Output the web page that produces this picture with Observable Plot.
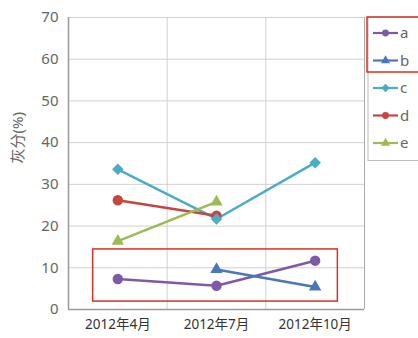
<!DOCTYPE html>
<html><head><meta charset="utf-8">
<script src="https://cdn.jsdelivr.net/npm/d3@7"></script>
<script src="https://cdn.jsdelivr.net/npm/@observablehq/plot@0.6"></script>
<style>
body{margin:0;background:#fff;font-family:"Noto Sans","Noto Sans CJK SC",sans-serif;}
#wrap{position:relative;width:418px;height:338px;}
#legend{position:absolute;left:0;top:0;}
</style></head>
<body><div id="wrap"></div>
<script>
const months = ["2012年4月", "2012年7月", "2012年10月"];
const seriesNames = ["a", "b", "c", "d", "e"];
const seriesColors = ["#7d5aa8", "#4a77b5", "#4badc5", "#c4463f", "#9dbb53"];
const seriesSymbols = ["circle", "triangle", "diamond", "circle", "triangle"];
const valuesA = [7.3, 5.7, 11.7];
const valuesB = [null, 9.6, 5.4];
const valuesC = [33.6, 21.7, 35.2];
const valuesD = [26.2, 22.5, null];
const valuesE = [16.4, 25.8, null];
const yTicks = [0, 10, 20, 30, 40, 50, 60, 70];
const yLabel = "灰分(%)";
const highlighted = ["a", "b"];

const allValues = [valuesA, valuesB, valuesC, valuesD, valuesE];
const rows = [];
seriesNames.forEach((s, si) => allValues[si].forEach((v, i) => {
  if (v != null) rows.push({series: s, xi: i, value: v});
}));
const hl = rows.filter(d => highlighted.includes(d.series));
const box = [{
  x1: d3.min(hl, d => d.xi) - 0.25, x2: d3.max(hl, d => d.xi) + 0.23,
  y1: d3.min(hl, d => d.value) - 3.5, y2: d3.max(hl, d => d.value) + 2.7
}];
const bounds = months.map((m, i) => i + 0.5).slice(0, -1);

const squareDiamond = {
  draw(ctx, size) {
    const h = Math.sqrt(size / 2);
    ctx.moveTo(0, -h); ctx.lineTo(h, 0); ctx.lineTo(0, h); ctx.lineTo(-h, 0); ctx.closePath();
  }
};
const symbolMap = {circle: d3.symbolCircle, triangle: d3.symbolTriangle, diamond: squareDiamond};
const colorOf = s => seriesColors[seriesNames.indexOf(s)];
const symOf = s => symbolMap[seriesSymbols[seriesNames.indexOf(s)]];
const rOf = s => ({circle: 5.2, triangle: 4.6, diamond: 4.6})[seriesSymbols[seriesNames.indexOf(s)]];

const chart = Plot.plot({
  width: 418, height: 338,
  marginLeft: 68, marginRight: 54, marginTop: 17, marginBottom: 29,
  style: {fontFamily: "Noto Sans, Noto Sans CJK SC, sans-serif", color: "#555"},
  x: {type: "linear", domain: [-0.5, months.length - 0.5], ticks: months.map((m, i) => i),
      tickFormat: i => months[i], label: null},
  y: {domain: [0, 70], ticks: yTicks, label: null},
  r: {type: "identity"},
  symbol: {type: "identity"},
  marks: [
    Plot.ruleY(yTicks, {stroke: "#d0d0d0", strokeWidth: 1}),
    Plot.ruleX(bounds, {stroke: "#d0d0d0", strokeWidth: 1}),
    Plot.ruleX([months.length - 0.5], {stroke: "#aaa", strokeWidth: 1}),
    Plot.ruleX([-0.5], {stroke: "#999", strokeWidth: 1.5}),
    Plot.ruleY([0], {stroke: "#999", strokeWidth: 1.5}),
    Plot.axisY({ticks: yTicks, tickSize: 0, tickPadding: 10, fontSize: 15, fill: "#666", label: null}),
    Plot.axisX({ticks: months.map((m, i) => i), tickFormat: i => months[i], tickSize: 0, tickPadding: 10, fontSize: 13.5, fill: "#333", label: null}),
    Plot.text([yLabel], {frameAnchor: "left", dx: -50, dy: 0, rotate: -90, fontSize: 15, fill: "#666"}),
    Plot.line(rows, {x: "xi", y: "value", z: "series", stroke: d => colorOf(d.series), strokeWidth: 2.5}),
    Plot.dot(rows, {x: "xi", y: "value", symbol: d => symOf(d.series), fill: d => colorOf(d.series), r: d => rOf(d.series)}),
    Plot.rect(box, {x1: "x1", x2: "x2", y1: "y1", y2: "y2", fill: "none", stroke: "#d9302a", strokeWidth: 1.5})
  ]
});
document.getElementById("wrap").appendChild(chart);

// legend
const lg = d3.select("#wrap").append("svg").attr("id", "legend").attr("width", 418).attr("height", 338);
const lx = 368, ly = 17, step = 27.5;
lg.append("rect").attr("x", lx).attr("y", ly).attr("width", 60).attr("height", step * seriesNames.length + 6)
  .attr("fill", "#fff").attr("stroke", "#bbb");
seriesNames.forEach((s, i) => {
  const cy = ly + 16 + i * step;
  const g = lg.append("g");
  g.append("line").attr("x1", lx + 5).attr("x2", lx + 30).attr("y1", cy).attr("y2", cy)
    .attr("stroke", seriesColors[i]).attr("stroke-width", 2.2);
  g.append("path").attr("d", d3.symbol(symbolMap[seriesSymbols[i]], 36)()).attr("transform", `translate(${lx + 17.5},${cy})`).attr("fill", seriesColors[i]);
  g.append("text").attr("x", lx + 32).attr("y", cy + 5).attr("font-size", 15).attr("fill", "#666").text(s);
});
lg.append("rect").attr("x", lx - 1).attr("y", ly).attr("width", 62).attr("height", step * highlighted.length)
  .attr("fill", "none").attr("stroke", "#d9302a").attr("stroke-width", 1.5);
</script></body></html>
